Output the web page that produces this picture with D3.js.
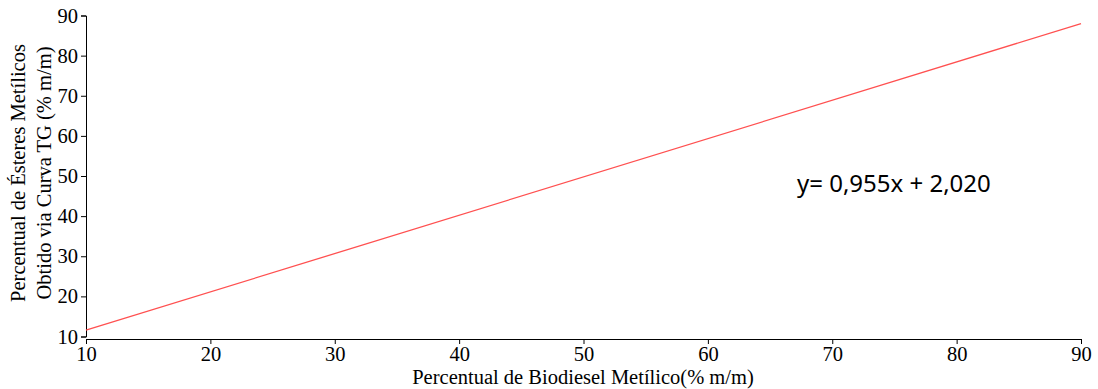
<!DOCTYPE html>
<html lang="pt">
<head>
<meta charset="UTF-8">
<script src="https://d3js.org/d3.v7.min.js"></script>
<style>
  body { margin: 0; background: #fff; }
  .tick text { font-family: "Liberation Serif", serif; font-size: 20.5px; fill: #000; }
  .axis path, .axis line { stroke: #000; }
  .title { font-family: "Liberation Serif", serif; font-size: 20.5px; fill: #000; }
  .eq { font-family: "Noto Sans", sans-serif; font-size: 24px; fill: #000; }
</style>
</head>
<body>
<div id="chart"></div>
<script>
  // fitted line
  const slope = 0.955;
  const intercept = 2.020;
  const xEnds = [10, 90];
  const xTicks = [10, 20, 30, 40, 50, 60, 70, 80, 90];
  const yTicks = [10, 20, 30, 40, 50, 60, 70, 80, 90];
  const equation = "y= 0,955x + 2,020";
  const xTitle = "Percentual de Biodiesel Metílico(% m/m)";
  const yTitle = ["Percentual de Ésteres Metílicos", "Obtido via Curva TG (% m/m)"];

  const W = 1098, H = 389;
  const svg = d3.select("#chart").append("svg")
      .attr("width", W).attr("height", H);

  const x = d3.scaleLinear().domain([10, 90]).range([86, 1081]);
  const y = d3.scaleLinear().domain([10, 90]).range([336.5, 15.5]);

  svg.append("g")
      .attr("class", "axis")
      .attr("transform", "translate(0,339)")
      .call(d3.axisBottom(x).tickValues(xTicks).tickSizeOuter(0).tickSize(5).tickPadding(2));

  svg.append("g")
      .attr("class", "axis")
      .attr("transform", "translate(86,0)")
      .call(d3.axisLeft(y).tickValues(yTicks).tickSizeOuter(0).tickSize(5).tickPadding(3));

  const pts = xEnds.map(v => [v, slope * v + intercept]);
  svg.append("path")
      .datum(pts)
      .attr("fill", "none")
      .attr("stroke", "#ff5050")
      .attr("stroke-width", 1.3)
      .attr("d", d3.line().x(d => x(d[0])).y(d => y(d[1])));

  svg.append("text")
      .attr("class", "eq")
      .attr("x", 797).attr("y", 192)
      .text(equation);

  svg.append("text")
      .attr("class", "title")
      .attr("x", 583).attr("y", 384)
      .attr("text-anchor", "middle")
      .text(xTitle);

  svg.append("text")
      .attr("class", "title")
      .attr("transform", "translate(0,173) rotate(-90)")
      .attr("text-anchor", "middle")
      .selectAll("tspan")
      .data(yTitle)
      .enter().append("tspan")
      .attr("x", 0)
      .attr("y", (d, i) => 25 + i * 26)
      .text(d => d);
</script>
</body>
</html>
